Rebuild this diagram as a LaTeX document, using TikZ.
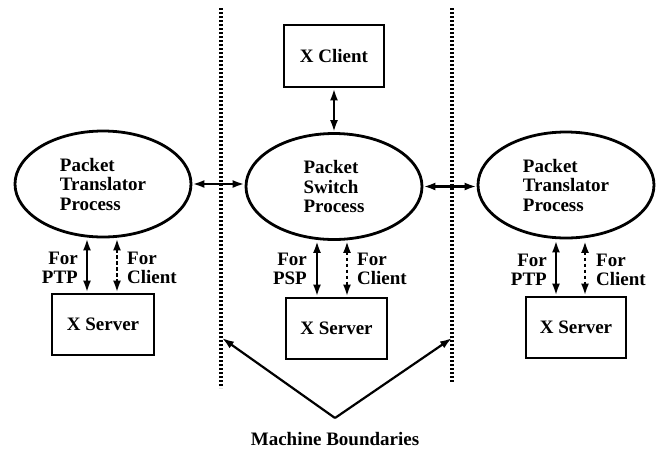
\documentclass[tikz,border=0pt]{standalone}
\usepackage{fontspec}
\setmainfont{Liberation Serif}
\usetikzlibrary{shapes.geometric,arrows.meta}
\begin{document}
\begin{tikzpicture}[x=1pt,y=-1pt,
  every node/.style={font=\fontsize{19}{19.5}\selectfont\bfseries},
  proc/.style={draw,ellipse,line width=2.8pt,minimum width=176pt,minimum height=106pt,inner sep=0pt,align=left},
  box/.style={draw,rectangle,line width=2.8pt,inner sep=0pt},
  lbl/.style={inner sep=0pt},
  dbl/.style={line width=2.8pt,{Latex[length=12pt,width=8pt]}-{Latex[length=12pt,width=8pt]}},
  dbldash/.style={dbl,dash pattern=on 3.5pt off 2.5pt},
  boundary/.style={line width=3.5pt,dash pattern=on 2.4pt off 1.6pt},
  pointer/.style={line width=2.2pt,-{Latex[length=12pt,width=8pt]}}]
\useasboundingbox (0,0) rectangle (656,451);

% machine boundaries
\coordinate (BLt) at (221,8);  \coordinate (BLb) at (221,388);
\coordinate (BRt) at (452,8);  \coordinate (BRb) at (452,382);
\draw[boundary] (BLt) -- (BLb);
\draw[boundary] (BRt) -- (BRb);

% processes
\node[proc] (L) at (103,184) {Packet\\Translator\\Process};
\node[proc] (C) at (334,186.5) {Packet\\Switch\\Process};
\node[proc] (R) at (566,185) {Packet\\Translator\\Process};

% client and servers
\node[box,minimum width=100pt,minimum height=62pt] (XC) at (334,56) {X Client};
\node[box,minimum width=102pt,minimum height=61pt] (LS) at (103,324.5) {X Server};
\node[box,minimum width=101pt,minimum height=61pt] (CS) at (336.5,328.5) {X Server};
\node[box,minimum width=100pt,minimum height=61pt] (RS) at (576,327.5) {X Server};

% links between processes
\draw[dbl] (XC.south) -- (C.north);
\draw[dbl] (L.east) -- (L.east -| C.west);
\draw[dbl] (C.east) -- (C.east -| R.west);

% process to server links
\draw[dbl] ([xshift=-16pt]L.south) -- ([xshift=-16pt]L.south |- LS.north);
\draw[dbldash] ([xshift=14pt]L.south) -- ([xshift=14pt]L.south |- LS.north);
\draw[dbl] ([xshift=-17pt]C.south) -- ([xshift=-17pt]C.south |- CS.north);
\draw[dbldash] ([xshift=13pt]C.south) -- ([xshift=13pt]C.south |- CS.north);
\draw[dbl] ([xshift=-10pt,yshift=-1pt]R.south) -- ([xshift=-10pt]R.south |- RS.north);
\draw[dbldash] ([xshift=19pt,yshift=-1.5pt]R.south) -- ([xshift=19pt]R.south |- RS.north);

% link labels
\node[lbl,anchor=east,align=right] (l1) at (78,268) {For\\PTP};
\node[lbl,anchor=west,align=left] (l2) at (127,268) {For\\Client};
\node[lbl,anchor=east,align=right] (l3) at (307,269) {For\\PSP};
\node[lbl,anchor=west,align=left] (l4) at (357,269) {For\\Client};
\node[lbl,anchor=east,align=right] (l5) at (547,270) {For\\PTP};
\node[lbl,anchor=west,align=left] (l6) at (596,270) {For\\Client};

% caption with pointers to the boundaries
\coordinate (apex) at (335,418);
\coordinate (PL) at (222,338);
\coordinate (PR) at (452,338);
\draw[pointer] (apex) -- (PL);
\draw[pointer] (apex) -- (PR);
\node[lbl] (cap) at (335,439) {Machine Boundaries};
\end{tikzpicture}
\end{document}
